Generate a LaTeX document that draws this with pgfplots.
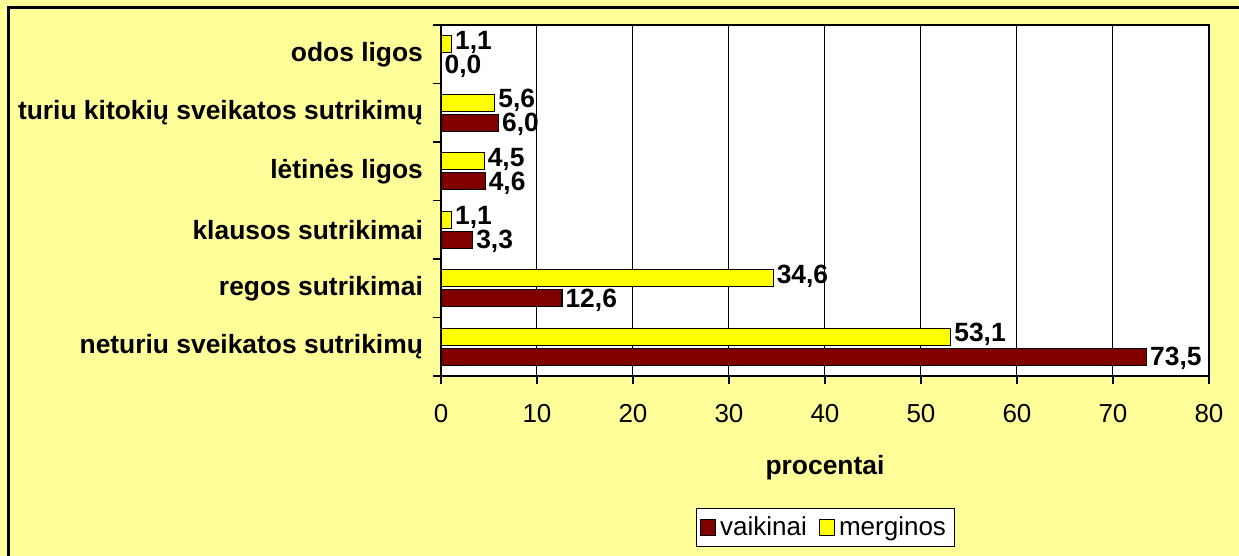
\documentclass[border=0pt]{standalone}
\usepackage{fontspec}
\setmainfont{Liberation Sans}
\usepackage{pgfplots}
\pgfplotsset{compat=1.18}

\definecolor{bgyellow}{HTML}{FFFF99}
\definecolor{boys}{HTML}{800000}
\definecolor{girls}{HTML}{FFFF00}

\begin{document}
\begin{tikzpicture}
\useasboundingbox (0,0) rectangle (619.5pt,278pt);
\fill[bgyellow] (0,0) rectangle (619.5pt,278pt);
\draw[line width=1.5pt] (4pt,0) -- (4pt,274pt) -- (619.5pt,274pt);
\begin{axis}[
    at={(220.5pt,90pt)}, anchor=south west,
    scale only axis,
    width=384pt, height=175.5pt,
    xbar, bar width=8.5pt,
    xmin=0, xmax=80,
    ymin=0.5, ymax=6.5,
    axis background/.style={fill=white},
    axis line style={line width=0.6pt},
    xtick={0,10,...,80},
    xtick pos=bottom, ytick pos=left,
    xmajorgrids,
    major grid style={black, line width=0.5pt},
    tick align=outside,
    major tick length=4pt,
    tick style={black, line width=0.6pt},
    ytick={0.5,1.5,...,6.5},
    yticklabels={},
    extra y ticks={1,...,6},
    extra y tick labels={neturiu sveikatos sutrikimų, regos sutrikimai, klausos sutrikimai, lėtinės ligos, turiu kitokių sveikatos sutrikimų, odos ligos},
    extra y tick style={major tick length=0pt,
        yticklabel style={font=\fontsize{13.2}{15}\selectfont\bfseries, xshift=-5.5pt}},
    xticklabel style={font=\fontsize{13}{15}\selectfont, yshift=-6.5pt},
    /pgf/number format/assume math mode=true,
    xlabel={procentai},
    xlabel style={font=\fontsize{13.2}{15}\selectfont\bfseries, yshift=-9.5pt},
    nodes near coords,
    nodes near coords align={horizontal},
    every node near coord/.append style={font=\fontsize{13.2}{15}\selectfont\bfseries, black,
        inner xsep=1.5pt, inner ysep=0pt,
        /pgf/number format/fixed, /pgf/number format/fixed zerofill,
        /pgf/number format/precision=1, /pgf/number format/use comma,
        /pgf/number format/assume math mode=true},
    legend columns=2,
    legend style={at={(0.5,-0.4316)}, anchor=center, draw=black, fill=white,
        font=\fontsize{13}{15}\selectfont, inner sep=2pt,
        /tikz/every even column/.append style={column sep=4pt}},
    legend image code/.code={\draw[#1, draw=black, line width=0.6pt] (0pt,-4pt) rectangle (7.5pt,4pt);},
]
\addplot[fill=boys, draw=black, line width=0.6pt, bar shift=-5pt,
    every node near coord/.append style={yshift=-1pt}] coordinates {
    (73.5,1) (12.6,2) (3.3,3) (4.6,4) (6.0,5) (0.0,6)
};
\addplot[fill=girls, draw=black, line width=0.6pt, bar shift=5pt,
    every node near coord/.append style={yshift=1pt}] coordinates {
    (53.1,1) (34.6,2) (1.1,3) (4.5,4) (5.6,5) (1.1,6)
};
\legend{vaikinai, merginos}
\end{axis}
\end{tikzpicture}
\end{document}
